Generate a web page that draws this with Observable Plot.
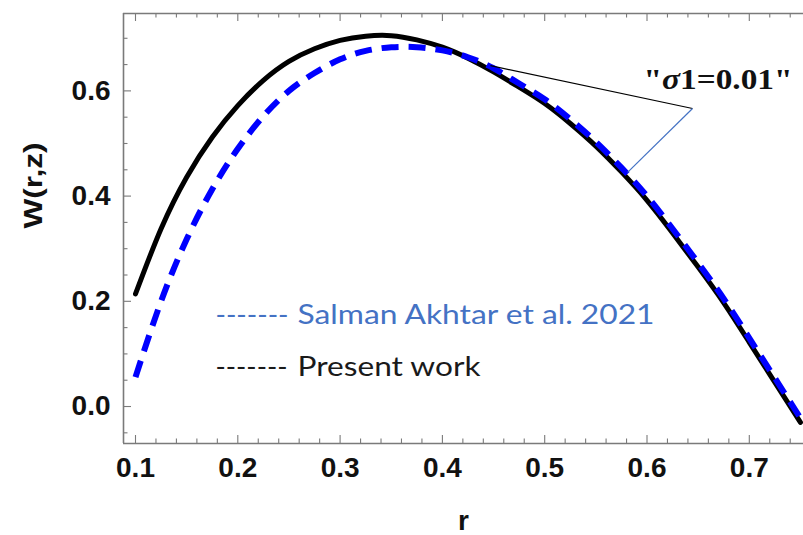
<!DOCTYPE html>
<html>
<head>
<meta charset="utf-8">
<script src="https://cdn.jsdelivr.net/npm/d3@7"></script>
<script src="https://cdn.jsdelivr.net/npm/@observablehq/plot@0.6"></script>
<style>
  html, body { margin: 0; padding: 0; background: #fff; }
  #chart svg { display: block; }
</style>
</head>
<body>
<div id="chart"></div>
<script>
// ---- data ----
const r = [0.100, 0.125, 0.150, 0.175, 0.200, 0.225, 0.250, 0.275, 0.300, 0.325, 0.350, 0.375, 0.400,
           0.425, 0.450, 0.475, 0.500, 0.525, 0.550, 0.575, 0.600, 0.625, 0.650, 0.675, 0.700, 0.725, 0.750];
const presentWork = [0.214, 0.338, 0.436, 0.512, 0.572, 0.620, 0.656, 0.680, 0.696, 0.704, 0.705, 0.697, 0.683,
                     0.662, 0.636, 0.607, 0.576, 0.538, 0.495, 0.446, 0.392, 0.330, 0.265, 0.197, 0.122, 0.046, -0.030];
const akhtar2021 = [0.056, 0.200, 0.318, 0.413, 0.490, 0.552, 0.600, 0.634, 0.660, 0.676, 0.683, 0.683, 0.677,
                    0.664, 0.643, 0.614, 0.584, 0.546, 0.503, 0.454, 0.400, 0.338, 0.273, 0.205, 0.130, 0.054, -0.022];

const xTickLabels = [0.1, 0.2, 0.3, 0.4, 0.5, 0.6, 0.7];
const xMinorTicks = [0.12, 0.14, 0.16, 0.18, 0.22, 0.24, 0.26, 0.28, 0.32, 0.34, 0.36, 0.38, 0.42, 0.44, 0.46, 0.48,
                     0.52, 0.54, 0.56, 0.58, 0.62, 0.64, 0.66, 0.68, 0.72, 0.74];
const yTickLabels = [0.0, 0.2, 0.4, 0.6];
const yMinorTicks = [-0.05, 0.05, 0.10, 0.15, 0.25, 0.30, 0.35, 0.45, 0.50, 0.55, 0.65, 0.70];

const xLabel = "r";
const yLabel = "W(r,z)";
const legendDashes = "-------";
const legendAkhtar = "Salman Akhtar et al. 2021";
const legendPresent = "Present work";
const annotationText = "\"σ1=0.01\"";
// callout: pointer from the label to the two curves (r, W)
const calloutJoint = [0.6445, 0.5665];
const calloutBlack = [0.447, 0.648];
const calloutBlue = [0.581, 0.445];

// ---- layout ----
const W = 803, H = 535;
const mL = 123, mR = 0, mT = 13, mB = 92;
const innerW = W - mL - mR, innerH = H - mT - mB;
const xDomain = [0.08827, 0.75298];
const yDomain = [-0.0703, 0.7471];
const axisGray = "#7a7a7a";

const rows = r.map((v, i) => ({r: v, present: presentWork[i], akhtar: akhtar2021[i]}));

const tickFont = {fontSize: 28, fontWeight: "bold", fontFamily: "Liberation Sans, Arial, sans-serif", fill: "#111"};
const legendFont = {fontSize: 26, fontFamily: "Lato, Open Sans, sans-serif"};

const chart = Plot.plot({
  width: W, height: H,
  marginLeft: mL, marginRight: mR, marginTop: mT, marginBottom: mB,
  x: {domain: xDomain, axis: null},
  y: {domain: yDomain, axis: null},
  style: {background: "#fff", overflow: "visible"},
  marks: [
    // frame (left, bottom, top)
    Plot.ruleX([xDomain[0]], {stroke: axisGray, strokeWidth: 1.6}),
    Plot.ruleY([yDomain[0]], {stroke: axisGray, strokeWidth: 1.6}),
    Plot.ruleY([yDomain[1]], {stroke: axisGray, strokeWidth: 1.6}),
    // inward ticks: bottom
    Plot.ruleX(xTickLabels, {stroke: axisGray, strokeWidth: 1.1, insetTop: innerH - 8}),
    Plot.ruleX(xMinorTicks, {stroke: axisGray, strokeWidth: 1.1, insetTop: innerH - 4.5}),
    // inward ticks: top
    Plot.ruleX(xTickLabels, {stroke: axisGray, strokeWidth: 1.1, insetBottom: innerH - 8}),
    Plot.ruleX(xMinorTicks, {stroke: axisGray, strokeWidth: 1.1, insetBottom: innerH - 4.5}),
    // inward ticks: left
    Plot.ruleY(yTickLabels, {stroke: axisGray, strokeWidth: 1.1, insetRight: innerW - 8}),
    Plot.ruleY(yMinorTicks, {stroke: axisGray, strokeWidth: 1.1, insetRight: innerW - 4.5}),
    // tick labels
    Plot.text(xTickLabels, {x: d => d, text: d => d.toFixed(1), frameAnchor: "bottom", lineAnchor: "top", dy: 14, ...tickFont}),
    Plot.text(yTickLabels, {y: d => d, text: d => d.toFixed(1), frameAnchor: "left", textAnchor: "end", lineAnchor: "middle", dx: -13, ...tickFont}),
    // axis titles
    Plot.text([yLabel], {text: d => d, frameAnchor: "left", dx: -90, rotate: -90, lineAnchor: "middle", fontSize: 25, fontWeight: "bold", fontFamily: "Liberation Sans, Arial, sans-serif", fill: "#111", ariaDescription: "ylabel"}),
    Plot.text([xLabel], {text: d => d, frameAnchor: "bottom", lineAnchor: "top", dy: 67, fontSize: 28, fontWeight: "bold", fontFamily: "Liberation Sans, Arial, sans-serif", fill: "#111"}),
    // curves
    Plot.line(rows, {x: "r", y: "present", stroke: "#000", strokeWidth: 5, curve: "natural"}),
    Plot.line(rows, {x: "r", y: "akhtar", stroke: "#0000ff", strokeWidth: 6, strokeDasharray: "17,10", strokeLinecap: "butt", curve: "natural"}),
    // callout lines
    Plot.link([0], {x1: () => calloutBlack[0], y1: () => calloutBlack[1], x2: () => calloutJoint[0], y2: () => calloutJoint[1], stroke: "#000", strokeWidth: 1.2}),
    Plot.link([0], {x1: () => calloutJoint[0], y1: () => calloutJoint[1], x2: () => calloutBlue[0], y2: () => calloutBlue[1], stroke: "#4472C4", strokeWidth: 1.2}),
    Plot.text([annotationText], {text: d => d, frameAnchor: "top-left", textAnchor: "start", lineAnchor: "top", dx: 520, dy: 54.5, fontSize: 29, fontWeight: "bold", fontFamily: "Liberation Serif, Times New Roman, serif", fill: "#111", ariaDescription: "annot"}),
    // legend (text overlay)
    Plot.text([legendDashes], {text: d => d, frameAnchor: "top-left", textAnchor: "start", lineAnchor: "top", dx: 92, dy: 292, ...legendFont, fill: "#4472C4", ariaDescription: "dash1"}),
    Plot.text([legendAkhtar], {text: d => d, frameAnchor: "top-left", textAnchor: "start", lineAnchor: "top", dx: 174, dy: 292, ...legendFont, fill: "#4472C4", ariaDescription: "leg1"}),
    Plot.text([legendDashes], {text: d => d, frameAnchor: "top-left", textAnchor: "start", lineAnchor: "top", dx: 92, dy: 344, ...legendFont, fill: "#1a1a1a", ariaDescription: "dash2"}),
    Plot.text([legendPresent], {text: d => d, frameAnchor: "top-left", textAnchor: "start", lineAnchor: "top", dx: 174, dy: 344, ...legendFont, fill: "#1a1a1a", ariaDescription: "leg2"})
  ]
});

document.getElementById("chart").appendChild(chart);

// fine-tune text widths to the reference
const svg = d3.select(chart);
const pick = (label) => svg.selectAll(`g[aria-description="${label}"] text`);
const fit = (label, len) => pick(label).attr("textLength", len).attr("lengthAdjust", "spacingAndGlyphs");
fit("dash1", 73); fit("dash2", 72); fit("leg1", 357); fit("leg2", 183); fit("ylabel", 86);
const annot = pick("annot");
annot.text(null);
annot.append("tspan").text("\"");
annot.append("tspan").attr("font-style", "italic").text("σ");
annot.append("tspan").text("1=0.01\"");
annot.attr("textLength", 149).attr("lengthAdjust", "spacingAndGlyphs");
</script>
</body>
</html>
